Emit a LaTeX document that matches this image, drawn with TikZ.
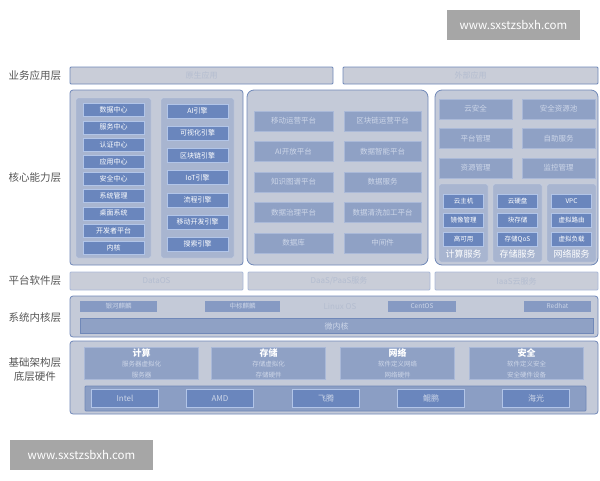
\documentclass[tikz,border=0pt]{standalone}
\usepackage{fontspec}
\setmainfont{Noto Sans CJK SC}
\usetikzlibrary{positioning}
\definecolor{barfill}{HTML}{C9CDD8}
\definecolor{barline}{HTML}{6F88B8}
\definecolor{panelfill}{HTML}{C4CAD8}
\definecolor{panelline}{HTML}{7088B8}
\definecolor{colfill}{HTML}{A8B5D0}
\definecolor{colline}{HTML}{C9D3E6}
\definecolor{celldark}{HTML}{6A86BD}
\definecolor{celledge}{HTML}{B2C5E8}
\definecolor{tilefill}{HTML}{8FA1C5}
\definecolor{tileedge}{HTML}{AAB9D8}
\definecolor{tiletext}{HTML}{CDD6E8}
\definecolor{fainttext}{HTML}{B4BDD0}
\definecolor{labelgray}{HTML}{555555}

\begin{document}
\begin{tikzpicture}[
		x=1pt, y=-1pt,
		lbl/.style = {text=labelgray, font=\fontsize{10.5}{14}\selectfont},
		layerbar/.style = {draw=barline, fill=barfill, line width=0.8pt, rounded corners=1pt, text=fainttext, font=\fontsize{8}{9}\selectfont},
		softbar/.style = {layerbar, draw=tileedge},
		panel/.style = {draw=panelline, fill=panelfill, line width=0.8pt, rounded corners=3pt},
		bigpanel/.style = {panel, rounded corners=7pt},
		column/.style = {draw=colline, fill=colfill, rounded corners=2pt},
		cell/.style = {draw=celledge, fill=celldark, text=white, inner sep=0pt, minimum height=13pt, minimum width=61pt, font=\fontsize{7}{8}\selectfont},
		tile/.style = {draw=tileedge, fill=tilefill, text=tiletext, inner sep=0pt, minimum height=20pt, font=\fontsize{7.5}{9}\selectfont},
		smallcell/.style = {cell, minimum width=40pt, minimum height=14pt, font=\fontsize{6.5}{7}\selectfont},
		kernel/.style = {fill=tilefill!75!celldark, text=tiletext, inner sep=0pt, minimum height=11pt, font=\fontsize{6.5}{7}\selectfont},
		infra/.style = {fill=tilefill, draw=tileedge, inner sep=0pt, minimum width=114pt, minimum height=32pt, align=center, text=white},
		chip/.style = {draw=celledge, fill=celldark, text=tiletext, line width=0.8pt, inner sep=0pt, minimum width=67pt, minimum height=18pt, font=\fontsize{8}{9}\selectfont},
		watermark/.style = {fill=black!35, text=white, inner sep=0pt, font=\fontsize{11.5}{13}\selectfont}
		]
		\useasboundingbox (0,0) rectangle (600,480);
		
		% watermarks
		\node[watermark, minimum width=133pt, minimum height=30pt] (wm1) at (513.5,25) {www.sxstzsbxh.com};
		\node[watermark, minimum width=143pt, minimum height=30pt] (wm2) at (81.5,455) {www.sxstzsbxh.com};
		
		% business layer
		\node[lbl] (l1) at (35,75.5) {业务应用层};
		\node[layerbar, minimum width=263pt, minimum height=17pt] (app1) at (201.5,75.5) {原生应用};
		\node[layerbar, minimum width=255pt, minimum height=17pt] (app2) at (470.5,75.5) {外部应用};
		
		% core layer
		\node[lbl] (l2) at (35,178) {核心能力层};
		\draw[panel] (70,90) rectangle (243,265);
		\draw[column] (76,98) rectangle (151,258);
		\draw[column] (161,98) rectangle (234,258);
		\foreach \t [count=\i] in {数据中心,服务中心,认证中心,应用中心,安全中心,系统管理,桌面系统,开发者平台,内核}
			\node[cell] (c\i) at (113.5,{110+17.2*(\i-1)}) {\t};
		\foreach \t [count=\i] in {AI引擎,可视化引擎,区块链引擎,IoT引擎,流程引擎,移动开发引擎,搜索引擎}
			\node[cell, minimum height=14pt] (e\i) at (197.5,{111+22.2*(\i-1)}) {\t};
		
		\draw[bigpanel] (247,90) rectangle (428,265);
		\foreach \a/\b [count=\i] in {移动运营平台/区块链运营平台,AI开放平台/数据智能平台,知识图谱平台/数据服务,数据治理平台/数据清洗加工平台,数据库/中间件}{
			\node[tile, minimum width=79pt] (pa\i) at (293.5,{121+30.5*(\i-1)}) {\a};
			\node[tile, minimum width=77pt] (pb\i) at (382.5,{121+30.5*(\i-1)}) {\b};
		}
		
		\draw[bigpanel] (435,90) rectangle (598,265);
		\foreach \a/\b [count=\i] in {云安全/安全资源池,平台管理/自助服务,资源管理/监控管理}{
			\node[tile, minimum width=73pt] (ia\i) at (475.5,{109+29.5*(\i-1)}) {\a};
			\node[tile, minimum width=73pt] (ib\i) at (558.5,{109+29.5*(\i-1)}) {\b};
		}
		\foreach \x/\n/\s/\p/\q/\r in {463.5/cp/计算服务/云主机/镜像管理/高可用,517.5/st/存储服务/云硬盘/块存储/存储QoS,571.5/nw/网络服务/VPC/虚拟路由/虚拟负载}{
			\draw[column] (\x-24.5,184) rectangle (\x+24.5,262);
			\node[smallcell] (\n1) at (\x,201) {\p};
			\node[smallcell] (\n2) at (\x,220) {\q};
			\node[smallcell] (\n3) at (\x,239) {\r};
			\node[text=white, font=\fontsize{9}{10}\selectfont] (\n) at (\x,254) {\s};
		}
		
		% platform software layer
		\node[lbl] (l3) at (35,281) {平台软件层};
		\node[softbar, minimum width=173pt, minimum height=18pt] (ps1) at (156.5,281) {DataOS};
		\node[softbar, minimum width=182pt, minimum height=18pt] (ps2) at (339,281) {DaaS/PaaS服务};
		\node[softbar, minimum width=163pt, minimum height=18pt] (ps3) at (516.5,281) {IaaS云服务};
		
		% kernel layer
		\node[lbl] (l4) at (35,318) {系统内核层};
		\draw[panel] (70,296) rectangle (598,337);
		\node[kernel, minimum width=77pt] (k1) at (118.5,306) {银河麒麟};
		\node[kernel, minimum width=75pt] (k2) at (242.5,306) {中标麒麟};
		\node[text=fainttext, font=\fontsize{8}{9}\selectfont] (k3) at (340,306) {Linux OS};
		\node[kernel, minimum width=68pt] (k4) at (422,306) {CentOS};
		\node[kernel, minimum width=67pt] (k5) at (557.5,306) {Redhat};
		\node[draw=panelline, fill=tilefill, text=tiletext, line width=0.8pt, minimum width=513pt, minimum height=15pt, inner sep=0pt, font=\fontsize{8}{9}\selectfont] (mk) at (336.5,326) {微内核};
		
		% infrastructure layer
		\node[lbl, align=center] (l5) at (35,370) {基础架构层\\底层硬件};
		\draw[panel] (70,341) rectangle (598,414);
		\node[infra] (hw1) at (141.5,363) {\fontsize{9}{10}\selectfont\bfseries 计算\\[-2pt]\fontsize{6.5}{7}\selectfont\color{tiletext} 服务器虚拟化\\[-1pt]\fontsize{6.5}{7}\selectfont\color{tiletext} 服务器};
		\node[infra] (hw2) at (268.5,363) {\fontsize{9}{10}\selectfont\bfseries 存储\\[-2pt]\fontsize{6.5}{7}\selectfont\color{tiletext} 存储虚拟化\\[-1pt]\fontsize{6.5}{7}\selectfont\color{tiletext} 存储硬件};
		\node[infra] (hw3) at (397.5,363) {\fontsize{9}{10}\selectfont\bfseries 网络\\[-2pt]\fontsize{6.5}{7}\selectfont\color{tiletext} 软件定义网络\\[-1pt]\fontsize{6.5}{7}\selectfont\color{tiletext} 网络硬件};
		\node[infra] (hw4) at (526.5,363) {\fontsize{9}{10}\selectfont\bfseries 安全\\[-2pt]\fontsize{6.5}{7}\selectfont\color{tiletext} 软件定义安全\\[-1pt]\fontsize{6.5}{7}\selectfont\color{tiletext} 安全硬件设备};
		\draw[draw=panelline, fill=tilefill!90!celldark, line width=0.8pt, rounded corners=1pt] (85,386) rectangle (586,411);
		\foreach \t/\x [count=\i] in {Intel/125,AMD/220,飞腾/326,鲲鹏/431,海光/536}
			\node[chip] (cpu\i) at (\x,398.5) {\t};
	\end{tikzpicture}
\end{document}
